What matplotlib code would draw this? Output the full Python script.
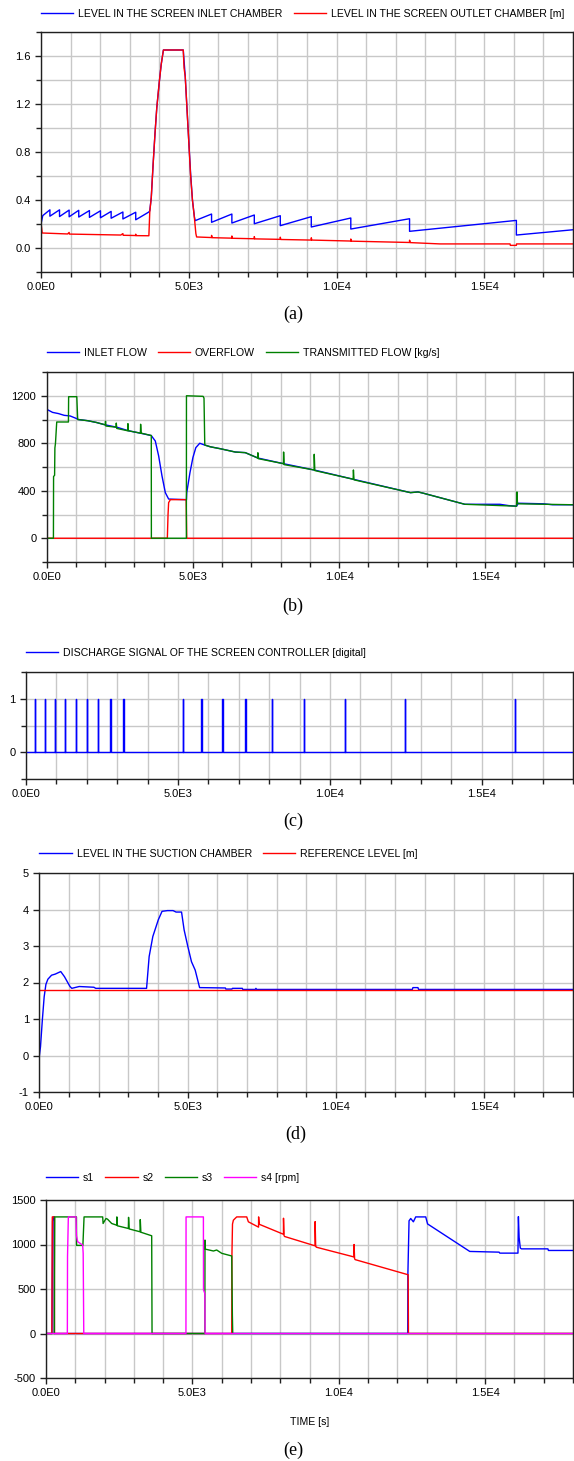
import numpy as np
import matplotlib
matplotlib.use("Agg")
import matplotlib.pyplot as plt
from matplotlib.ticker import FixedLocator
from matplotlib.lines import Line2D

W, H, DPI = 574, 1461, 100

# ---------------- data ----------------
X_MAX = 18000
X_MAJOR = [0, 5000, 10000, 15000]
X_MAJOR_LABELS = ["0.0E0", "5.0E3", "1.0E4", "1.5E4"]

# (a) levels in the screen chambers [m]
A_IN_T = [0, 60, 301, 301, 627, 627, 952, 952, 1277, 1277,
          1639, 1639, 2012, 2012, 2373, 2373, 2771, 2771, 3205, 3205,
          3650, 3680, 3731, 3794, 3856, 3918, 4005, 4067, 4142, 4813,
          4880, 4975, 5062, 5124, 5190, 5215, 5771, 5771, 6458, 6458,
          7217, 7217, 8096, 8096, 9145, 9145, 10482, 10482, 12470, 12470,
          16084, 16084, 18000]
A_IN_V = [0.20, 0.27, 0.318, 0.265, 0.318, 0.262, 0.316, 0.26, 0.314, 0.258,
          0.312, 0.255, 0.31, 0.252, 0.305, 0.248, 0.30, 0.242, 0.298, 0.235,
          0.30, 0.31, 0.42, 0.70, 0.95, 1.17, 1.39, 1.53, 1.65, 1.65,
          1.43, 1.0, 0.62, 0.40, 0.26, 0.228, 0.283, 0.214, 0.283, 0.208,
          0.275, 0.202, 0.269, 0.186, 0.261, 0.175, 0.25, 0.158, 0.244, 0.139,
          0.230, 0.108, 0.152]
A_OUT_T = [0, 40, 900, 952, 960, 2700, 2771, 2780, 3200, 3205, 3215,
           3650, 3680, 3731, 3794, 3856, 3918, 4005, 4067, 4142,
           4813, 4840, 4880, 4975, 5062, 5124, 5187, 5240, 5265,
           5771, 5771, 5790, 6458, 6458, 6475, 7217, 7217, 7235,
           8096, 8096, 8115, 9145, 9145, 9165, 10482, 10482, 10500,
           12470, 12470, 12490, 13500, 15870, 15880, 16084, 16090, 18000]
A_OUT_V = [0.21, 0.125, 0.117, 0.13, 0.116, 0.108, 0.12, 0.106, 0.104, 0.115, 0.103,
           0.102, 0.30, 0.42, 0.70, 0.95, 1.17, 1.39, 1.53, 1.65,
           1.65, 1.50, 1.43, 1.0, 0.60, 0.40, 0.26, 0.12, 0.092,
           0.087, 0.105, 0.086, 0.082, 0.10, 0.081, 0.077, 0.095, 0.076,
           0.072, 0.09, 0.071, 0.066, 0.085, 0.066, 0.058, 0.075, 0.057,
           0.046, 0.065, 0.045, 0.034, 0.034, 0.022, 0.022, 0.034, 0.034]
A_LABELS = ["LEVEL IN THE SCREEN INLET CHAMBER", "LEVEL IN THE SCREEN OUTLET CHAMBER [m]"]

# (b) flows [kg/s]
B_IN_T = [0, 200, 400, 600, 800, 1000, 1086, 1400, 1700, 2000,
          2400, 2800, 3200, 3577, 3650, 3714, 3829, 3943, 4057, 4171,
          4780, 4790, 4900, 5000, 5100, 5234, 5400, 5600, 5935, 6449,
          6791, 7217, 8096, 9145, 10482, 12443, 12700, 12900, 14300, 15500,
          15800, 16070, 16130, 17000, 17300, 18000]
B_IN_V = [1086, 1060, 1050, 1035, 1030, 1010, 1000, 990, 975, 955,
          935, 905, 885, 865, 840, 819, 693, 525, 384, 330,
          325, 384, 553, 679, 763, 800, 785, 770, 754, 726,
          721, 676, 628, 575, 497, 384, 390, 378, 286, 286,
          275, 270, 295, 290, 282, 282]
B_OF_T = [0, 4126, 4150, 4170, 4230, 4770, 4790, 18000]
B_OF_V = [0, 0, 200, 300, 325, 325, 0, 0]
B_TR_T = [0, 230, 235, 270, 280, 300, 343, 743, 750, 1029,
          1060, 1400, 1700, 2000, 2012, 2025, 2373, 2380, 2395, 2771,
          2778, 2795, 3205, 3212, 3230, 3577, 3580, 4777, 4780, 5349,
          5380, 5406, 5600, 5935, 6449, 6791, 7217, 7222, 7240, 8096,
          8102, 8120, 9145, 9150, 9170, 10482, 10490, 10510, 12443, 12700,
          12900, 14300, 16070, 16084, 16100, 16130, 18000]
B_TR_V = [0, 0, 520, 530, 760, 800, 979, 979, 1192, 1192,
          1000, 990, 975, 955, 985, 945, 935, 970, 925, 905,
          965, 905, 885, 960, 885, 865, 0, 0, 1200, 1195,
          1180, 785, 770, 754, 726, 721, 676, 720, 670, 628,
          726, 620, 575, 707, 570, 497, 575, 492, 384, 390,
          378, 286, 270, 390, 300, 290, 282]
B_LABELS = ["INLET FLOW", "OVERFLOW", "TRANSMITTED FLOW [kg/s]"]

# (c) discharge signal: times of the pulses [s]
C_PULSES = [301, 627, 952, 1277, 1639, 2012, 2373, 2771, 3205,
            5157, 5771, 6458, 7217, 8096, 9145, 10482, 12470, 16084]
C_PULSE_WIDTH = 10
C_LABELS = ["DISCHARGE SIGNAL OF THE SCREEN CONTROLLER [digital]"]

# (d) suction chamber level [m]
D_T = [0, 37, 99, 161, 220, 286, 410, 534, 720, 845,
       1031, 1093, 1342, 1839, 1900, 3615, 3702, 3826, 4012, 4137,
       4323, 4509, 4609, 4795, 4882, 5006, 5130, 5255, 5404, 6273,
       6290, 6497, 6510, 6845, 6860, 7280, 7304, 7330, 12580, 12600,
       12770, 12790, 18000]
D_V = [0, 0.24, 0.97, 1.61, 1.95, 2.09, 2.2, 2.23, 2.3, 2.16,
       1.89, 1.84, 1.89, 1.87, 1.84, 1.84, 2.71, 3.26, 3.72, 3.95,
       3.97, 3.97, 3.93, 3.93, 3.44, 2.99, 2.57, 2.34, 1.86, 1.85,
       1.82, 1.82, 1.84, 1.84, 1.81, 1.81, 1.84, 1.81, 1.81, 1.86,
       1.86, 1.81, 1.81]
D_REF_T = [0, 18000]
D_REF_V = [1.79, 1.79]
D_LABELS = ["LEVEL IN THE SUCTION CHAMBER", "REFERENCE LEVEL [m]"]

# (e) pump speeds [rpm]
E1_T = [0, 205, 215, 225, 250, 280, 285, 12356, 12360, 12400,
        12457, 12548, 12628, 12970, 13033, 14474, 15476, 15500, 16120, 16135,
        16160, 16200, 16240, 17143, 17160, 18000]
E1_V = [0, 0, 660, 1260, 1310, 1310, 0, 0, 660, 1266,
        1292, 1255, 1310, 1310, 1231, 922, 914, 903, 903, 1313,
        1080, 960, 951, 951, 933, 933]
E2_T = [0, 200, 215, 285, 290, 6344, 6350, 6370, 6400, 6457,
        6514, 6856, 6912, 7260, 7262, 7280, 7300, 8110, 8112, 8130,
        8150, 9190, 9192, 9210, 9230, 10520, 10522, 10540, 10560, 12370,
        12380, 18000]
E2_V = [0, 0, 1310, 1310, 0, 0, 870, 1230, 1273, 1292,
        1310, 1310, 1255, 1195, 1310, 1230, 1225, 1115, 1295, 1100,
        1090, 985, 1257, 990, 970, 860, 1000, 840, 830, 660,
        0, 0]
E3_T = [0, 285, 290, 300, 1040, 1045, 1260, 1300, 1936, 1950,
        2050, 2100, 2244, 2414, 2420, 2440, 2813, 2820, 2840, 3212,
        3220, 3240, 3610, 3622, 5426, 5430, 5440, 5718, 5830, 6002,
        6344, 6366, 6378, 18000]
E3_V = [0, 0, 660, 1310, 1310, 990, 990, 1310, 1310, 1236,
        1292, 1285, 1236, 1217, 1310, 1210, 1180, 1305, 1175, 1143,
        1280, 1138, 1098, 0, 0, 1050, 948, 927, 938, 901,
        871, 200, 0, 0]
E4_T = [0, 729, 735, 763, 1025, 1040, 1082, 1253, 1270, 1290,
        4780, 4784, 5376, 5380, 5425, 5433, 18000]
E4_V = [0, 0, 864, 1310, 1310, 1100, 1031, 994, 900, 0,
        0, 1310, 1310, 491, 450, 0, 0]
E_LABELS = ["s1", "s2", "s3", "s4 [rpm]"]

# ---------------- style ----------------
BLUE, RED, GREEN, MAGENTA = "#0000ff", "#ff0000", "#008000", "#ff00ff"
GRID = "#c8c8c8"
SPINE = "#202020"
SANS = ["Liberation Sans", "DejaVu Sans"]
SERIF = ["Liberation Serif", "DejaVu Serif"]
plt.rcParams["font.family"] = SANS
LW = 1.0
FS_TICK = 8
FS_LEG = 7.6

fig = plt.figure(figsize=(W / DPI, H / DPI), dpi=DPI)
fig.patch.set_facecolor("white")


def make_ax(rect, ylim, ymajor, ylabels, yminor):
    l, t, r, b = rect
    ax = fig.add_axes([l / W, 1 - b / H, (r - l) / W, (b - t) / H])
    ax.set_xlim(0, X_MAX)
    ax.set_ylim(*ylim)
    ax.xaxis.set_major_locator(FixedLocator(X_MAJOR))
    ax.set_xticklabels(X_MAJOR_LABELS)
    ax.xaxis.set_minor_locator(FixedLocator(list(range(0, X_MAX + 1, 1000))))
    ax.yaxis.set_major_locator(FixedLocator(ymajor))
    ax.set_yticklabels(ylabels)
    ax.yaxis.set_minor_locator(FixedLocator(yminor))
    ax.grid(True, which="both", color=GRID, lw=1.0)
    ax.set_axisbelow(True)
    ax.tick_params(which="both", direction="out", width=1.0, color=SPINE,
                   labelsize=FS_TICK, pad=3)
    ax.tick_params(which="major", length=4.5)
    ax.tick_params(which="minor", length=3.5)
    for s in ax.spines.values():
        s.set_color(SPINE)
        s.set_linewidth(1.0)
    return ax


def legend(handles, labels, x, y):
    fig.legend(handles, labels, loc="center left",
               bbox_to_anchor=(x / W, 1 - y / H), bbox_transform=fig.transFigure,
               frameon=False, ncol=len(labels), handlelength=3.07,
               handletextpad=0.45, columnspacing=1.04, borderpad=0,
               borderaxespad=0, fontsize=FS_LEG)


def caption(text, x, y):
    fig.text(x / W, 1 - y / H, text, ha="center", va="center",
             family=SERIF, fontsize=13)


# (a)
ax = make_ax((41, 32, 573, 272), (-0.2, 1.8), [0, 0.4, 0.8, 1.2, 1.6],
             ["0.0", "0.4", "0.8", "1.2", "1.6"],
             [-0.2, 0.2, 0.6, 1.0, 1.4, 1.8])
l1, = ax.plot(A_IN_T, A_IN_V, color=BLUE, lw=LW)
l2, = ax.plot(A_OUT_T, A_OUT_V, color=RED, lw=LW)
legend([l1, l2], A_LABELS, 41, 14)
caption("(a)", 293, 314)

# (b)
ax = make_ax((46.7, 372, 573, 562), (-200, 1400), [0, 400, 800, 1200],
             ["0", "400", "800", "1200"], [-200, 200, 600, 1000, 1400])
l1, = ax.plot(B_IN_T, B_IN_V, color=BLUE, lw=LW)
l2, = ax.plot(B_OF_T, B_OF_V, color=RED, lw=LW)
l3, = ax.plot(B_TR_T, B_TR_V, color=GREEN, lw=LW)
legend([l1, l2, l3], B_LABELS, 46.7, 353)
caption("(b)", 293, 606)

# (c)
ax = make_ax((26, 672, 573, 779), (-0.5, 1.5), [0, 1], ["0", "1"],
             [-0.5, 0.5, 1.5])
sig_t, sig_v = [0], [0]
for p in C_PULSES:
    sig_t += [p, p, p + C_PULSE_WIDTH, p + C_PULSE_WIDTH]
    sig_v += [0, 1, 1, 0]
sig_t.append(X_MAX)
sig_v.append(0)
l1, = ax.plot(sig_t, sig_v, color=BLUE, lw=LW)
legend([l1], C_LABELS, 26, 653)
caption("(c)", 293, 821)

# (d)
ax = make_ax((39.4, 873, 573, 1092), (-1, 5), [-1, 0, 1, 2, 3, 4, 5],
             ["-1", "0", "1", "2", "3", "4", "5"], [])
l1, = ax.plot(D_T, D_V, color=BLUE, lw=LW)
l2, = ax.plot(D_REF_T, D_REF_V, color=RED, lw=LW)
legend([l1, l2], D_LABELS, 39.4, 854)
caption("(d)", 296, 1134)

# (e)
ax = make_ax((46, 1200, 573, 1378), (-500, 1500), [-500, 0, 500, 1000, 1500],
             ["-500", "0", "500", "1000", "1500"], [])
l1, = ax.plot(E1_T, E1_V, color=BLUE, lw=LW)
l2, = ax.plot(E2_T, E2_V, color=RED, lw=LW)
l3, = ax.plot(E3_T, E3_V, color=GREEN, lw=LW)
l4, = ax.plot(E4_T, E4_V, color=MAGENTA, lw=LW)
legend([l1, l2, l3, l4], E_LABELS, 46, 1178)
fig.text(310 / W, 1 - 1422 / H, "TIME [s]", ha="center", va="center",
         fontsize=FS_LEG)
caption("(e)", 293, 1450)

fig.savefig("out.png", dpi=DPI)
